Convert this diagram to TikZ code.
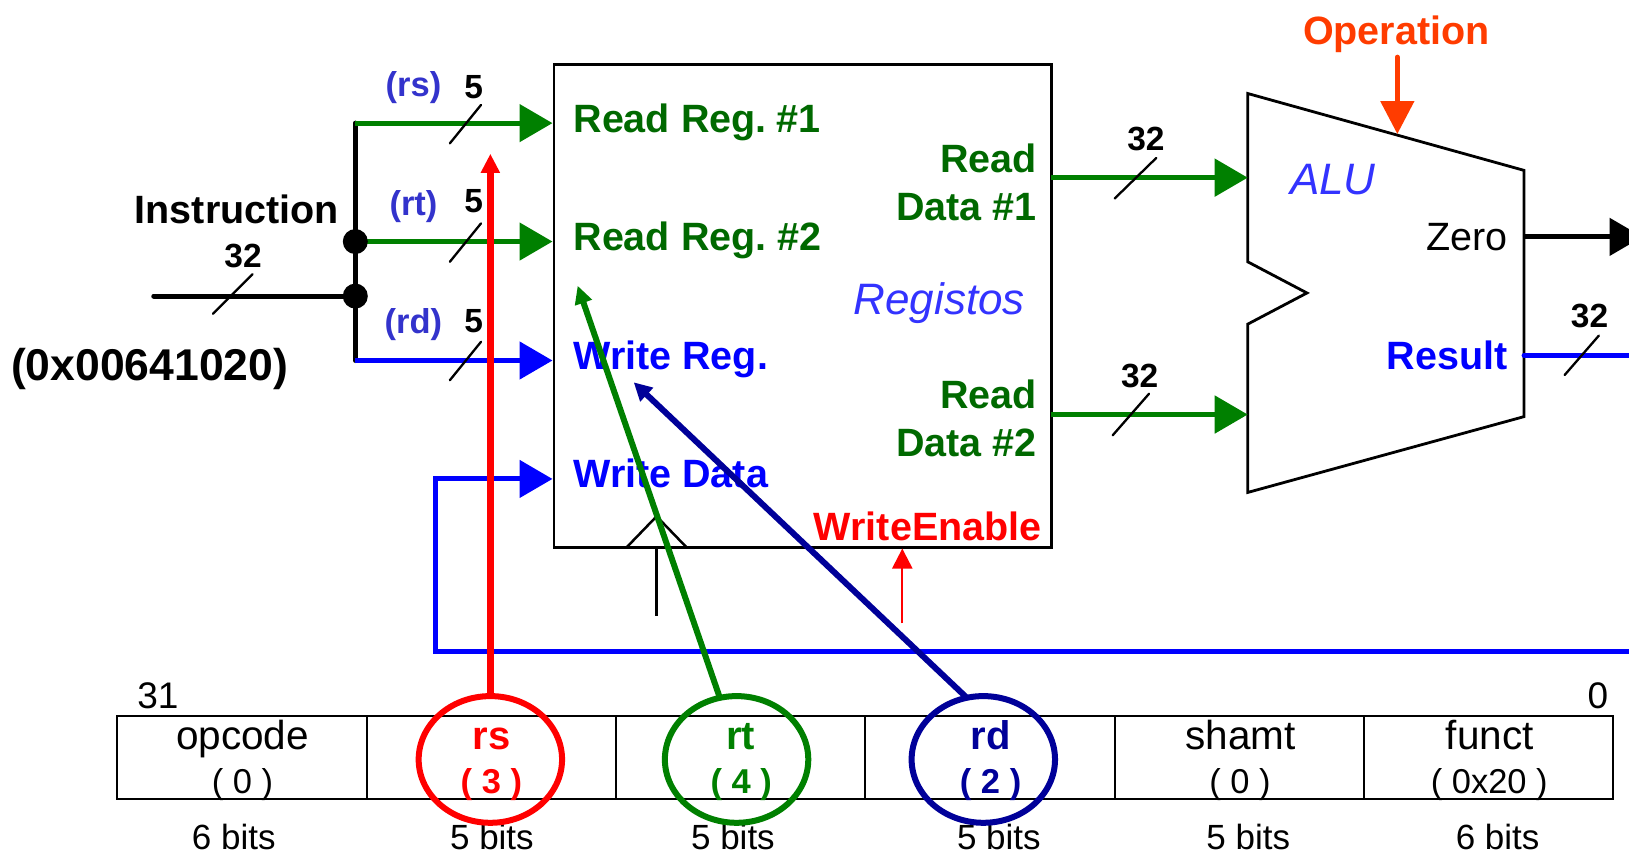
\documentclass[tikz,border=0pt]{standalone}
\usepackage{fontspec}
\setmainfont{Liberation Sans}
\usetikzlibrary{arrows.meta,shapes.geometric,calc}
\definecolor{dgreen}{RGB}{0,128,0}
\definecolor{lblgreen}{RGB}{0,105,0}
\definecolor{pureblue}{RGB}{0,0,255}
\definecolor{tagblue}{RGB}{51,51,204}
\definecolor{titleblue}{RGB}{51,51,255}
\definecolor{navyline}{RGB}{0,0,153}
\definecolor{opred}{RGB}{255,60,0}
\newcommand{\fs}[1]{\fontsize{#1pt}{#1pt}\selectfont}
\tikzset{
  x=1.03890pt,y=-1.03890pt,
  txt/.style={inner sep=0pt,outer sep=0pt,anchor=base},
  txtl/.style={txt,anchor=base west},
  txtr/.style={txt,anchor=base east},
  bold39/.style={font=\fs{39.5}\bfseries},
  width/.style={font=\fs{33.5}\bfseries,text=black},
  tag/.style={txt,font=\fs{34.5}\bfseries,text=tagblue},
  title/.style={txt,font=\fs{44}\itshape,text=titleblue},
  field/.style={txt,font=\fs{40.5}},
  fieldval/.style={txt,font=\fs{34.5}},
  bits/.style={txt,font=\fs{35}},
  cell/.style={draw=black,line width=2pt,rectangle,inner sep=0pt,minimum width=249.34pt,minimum height=83.11pt},
  wire/.style={line width=5pt},
  bigtip/.style={-{Triangle[length=33pt,width=37pt]}},
  slash/.style={draw=black,line width=2.3pt,line cap=round},
  ring/.style={draw,ellipse,line width=6pt,inner sep=0pt,minimum width=143.4pt,minimum height=126.7pt},
  dot/.style={circle,fill=black,inner sep=0pt,minimum size=25pt}
}
\begin{document}
\begin{tikzpicture}
\clip (0,0) rectangle (1568,823);
% Boxes
\node[draw=black,line width=2.5pt,rectangle,inner sep=0pt,minimum width=497.6pt,minimum height=483.1pt] (regs) at (772.5,294.5) {};
\coordinate (ca) at (603,527);
\coordinate (cb) at (632,497);
\coordinate (cc) at (661,527);
\coordinate (cd) at (632,593);
\coordinate (ce) at (632,527);
\draw[line width=2.5pt] (ca) -- (cb) -- (cc);
\draw[line width=2.5pt] (ce) -- (cd);
\coordinate (a1) at (1201,90);
\coordinate (a2) at (1467,164);
\coordinate (a3) at (1467,401);
\coordinate (a4) at (1201,474);
\coordinate (a5) at (1201,312);
\coordinate (a6) at (1258,282);
\coordinate (a7) at (1201,252);
\draw[line width=2.8pt,line join=miter] (a1) -- (a2) -- (a3) -- (a4) -- (a5) -- (a6) -- (a7) -- cycle;
% Table
\node[cell] (f1) at (233,729) {};
\node[cell] (f2) at (473,729) {};
\node[cell] (f3) at (713,729) {};
\node[cell] (f4) at (953,729) {};
\node[cell] (f5) at (1193,729) {};
\node[cell] (f6) at (1433,729) {};
% Input bus
\coordinate (iin) at (148,285);
\coordinate (bt) at (342,118.5);
\coordinate (bm) at (342,232.5);
\coordinate (bj) at (342,285);
\coordinate (bb) at (342,347);
\coordinate (wd0) at (419.5,627);
\coordinate (wd1) at (419.5,461);
\coordinate (res0) at (1467,342);
\coordinate (res1) at (1580,342);
\coordinate (wd2) at (1580,627);
\draw[wire,line cap=round] (iin) -- (bj);
\draw[wire,line cap=round] (bt) -- (bb);
\draw[wire,dgreen,bigtip] (bt) -- (bt -| regs.west);
\draw[wire,dgreen,bigtip] (bm) -- (bm -| regs.west);
\node[dot] (d1) at (bm) {};
\node[dot] (d2) at (bj) {};
\draw[wire,pureblue,bigtip] (bb) -- (bb -| regs.west);
\draw[wire,pureblue,bigtip,line join=miter] (wd2) -- (wd0) -- (wd1) -- (wd1 -| regs.west);
% ALU connections
\coordinate (rd1) at (1012,171);
\coordinate (rd2) at (1012,399);
\coordinate (zo) at (1467,228);
\coordinate (zo1) at (1581,228);
\draw[wire,dgreen,bigtip] (rd1) -- (rd1 -| a1);
\draw[wire,dgreen,bigtip] (rd2) -- (rd2 -| a1);
\draw[wire,black,bigtip] (zo) -- (zo1);
\draw[wire,pureblue,line cap=round] (res0) -- (res1);
\coordinate (op0) at (1345,55);
\coordinate (op1) at (1345,129);
\draw[wire,opred,line cap=round,-{Triangle[length=33pt,width=33pt]}] (op0) -- (op1);
% Slashes
\coordinate (s1a) at (433,138); \coordinate (s1b) at (463,101);
\coordinate (s2a) at (433,252); \coordinate (s2b) at (463,215);
\coordinate (s3a) at (433,366); \coordinate (s3b) at (463,329);
\coordinate (s4a) at (205,302); \coordinate (s4b) at (243,264);
\coordinate (s5a) at (1073,191); \coordinate (s5b) at (1113,152);
\coordinate (s6a) at (1071,419); \coordinate (s6b) at (1106,379);
\coordinate (s7a) at (1506,361); \coordinate (s7b) at (1539,323);
\foreach \n in {1,...,7} {\draw[slash] (s\n a) -- (s\n b);}
% Labels
\node[txt,bold39] (instr) at (228,215) {Instruction};
\node[txt,width] (w32i) at (234,257) {32};
\node[txt,font=\fs{44.5}\bfseries] (hex) at (144,366) {(0x00641020)};
\node[tag] (trs) at (398,93) {(rs)};
\node[tag] (trt) at (398,207) {(rt)};
\node[tag] (trd) at (398,321) {(rd)};
\node[txt,width] (w5a) at (456,95) {5};
\node[txt,width] (w5b) at (456,205) {5};
\node[txt,width] (w5c) at (456,320) {5};
\node[txtl,bold39,text=lblgreen] (rr1) at (552,128) {Read Reg.\hspace{-5pt} \#1};
\node[txtl,bold39,text=lblgreen] (rr2) at (552,241) {Read Reg.\hspace{-4pt} \#2};
\node[txtl,bold39,text=pureblue] (wr) at (552,356) {Write Reg.};
\node[txtl,bold39,text=pureblue] (wdt) at (552,469) {Write Data};
\node[txtr,bold39,text=lblgreen] (r1a) at (998,166) {Read};
\node[txtr,bold39,text=lblgreen] (r1b) at (998,212) {Data \#1};
\node[txtr,bold39,text=lblgreen] (r2a) at (998,393) {Read};
\node[txtr,bold39,text=lblgreen] (r2b) at (998,439) {Data \#2};
\node[title] (regt) at (904,302.5) {Registos};
\node[txt,bold39,text=red] (we) at (893,520.5) {WriteEnable};
\node[txt,bold39,text=opred] (opn) at (1344,43) {Operation};
\node[title] (alu) at (1283,187) {ALU};
\node[txt,width] (w32a) at (1103,145) {32};
\node[txt,width] (w32b) at (1097,373) {32};
\node[txt,width] (w32c) at (1530,315) {32};
\node[txtr,font=\fs{39.5}] (zero) at (1451,241) {Zero};
\node[txtr,bold39,text=pureblue] (rslt) at (1451,355.5) {Result};
\node[txt,font=\fs{37}] (b31) at (152,682) {31};
\node[txt,font=\fs{37}] (b0) at (1538,682) {0};
% Fields
\node[field] (t1) at (233.5,721) {opcode};
\node[fieldval] (v1) at (233.5,764) {( 0 )};
\node[field,font=\fs{40}\bfseries,text=red] (t2) at (473,721) {rs};
\node[fieldval,font=\fs{34.5}\bfseries,text=red] (v2) at (473,764) {( 3 )};
\node[field,font=\fs{40}\bfseries,text=dgreen] (t3) at (713,721) {rt};
\node[fieldval,font=\fs{34.5}\bfseries,text=dgreen] (v3) at (713.5,764) {( 4 )};
\node[field,font=\fs{40}\bfseries,text=navyline] (t4) at (953.5,721) {rd};
\node[fieldval,font=\fs{34.5}\bfseries,text=navyline] (v4) at (953.5,764) {( 2 )};
\node[field] (t5) at (1194,721) {shamt};
\node[fieldval] (v5) at (1193.5,764) {( 0 )};
\node[field] (t6) at (1434,721) {funct};
\node[fieldval] (v6) at (1433.5,764) {( 0x20 )};
\node[bits] (n1) at (225,818) {6 bits};
\node[bits] (n2) at (473.5,818) {5 bits};
\node[bits] (n3) at (705.5,818) {5 bits};
\node[bits] (n4) at (961.5,818) {5 bits};
\node[bits] (n5) at (1201.5,818) {5 bits};
\node[bits] (n6) at (1441.5,818) {6 bits};
% Highlight rings and pointers
\node[ring,draw=red] (rrs) at (472,731) {};
\node[ring,draw=dgreen] (rrt) at (709,731) {};
\node[ring,draw=navyline] (rrd) at (946.5,731) {};
\coordinate (pr) at (472,148);
\coordinate (pg0) at (693,672);
\coordinate (pg) at (556,275);
\coordinate (pn0) at (931,672);
\coordinate (pn) at (610,368);
\coordinate (pw0) at (868.5,600);
\coordinate (pw) at (868.5,528);
\draw[line width=7pt,red,-{Triangle[length=19pt,width=18pt]}] (rrs.north) -- (pr);
\draw[line width=6pt,dgreen,-{Triangle[length=18pt,width=17pt]}] (pg0) -- (pg);
\draw[line width=6pt,navyline,-{Triangle[length=18pt,width=18pt]}] (pn0) -- (pn);
\draw[line width=2.4pt,red,-{Triangle[length=20pt,width=20pt]}] (pw0) -- (pw);
\end{tikzpicture}
\end{document}
